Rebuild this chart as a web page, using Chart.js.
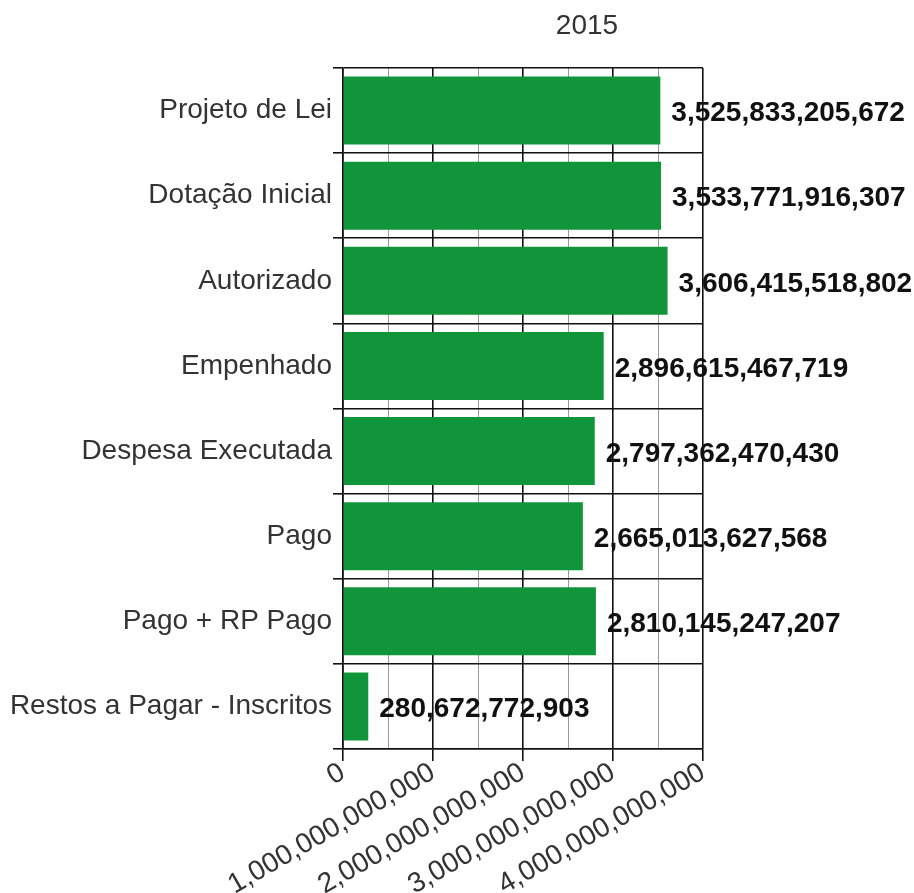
<!DOCTYPE html>
<html>
<head>
<meta charset="utf-8">
<script src="https://cdn.jsdelivr.net/npm/chart.js@4"></script>
<style>
  html, body { margin: 0; padding: 0; background: #fff; }
  #wrap { width: 914px; height: 893px; position: relative; }
</style>
</head>
<body>
<div id="wrap"><canvas id="budgetChart"></canvas></div>
<script>
// execução orçamentária 2015
const titleText = '2015';
const categories = [
  'Projeto de Lei',
  'Dotação Inicial',
  'Autorizado',
  'Empenhado',
  'Despesa Executada',
  'Pago',
  'Pago + RP Pago',
  'Restos a Pagar - Inscritos'
];
const values = [
  3525833205672,
  3533771916307,
  3606415518802,
  2896615467719,
  2797362470430,
  2665013627568,
  2810145247207,
  280672772903
];
const axisMax = 4000000000000;
const axisStep = 500000000000;   // half steps get the light grid lines
const majorStep = 1000000000000;

const fontFamily = '"Liberation Sans", Arial, sans-serif';
const fmt = n => n.toLocaleString('en-US');
const isMajor = v => Math.abs(v % majorStep) < 1;

// value printed just past the end of each bar
const valueLabels = {
  id: 'valueLabels',
  afterDatasetsDraw(chart) {
    const ctx = chart.ctx;
    const meta = chart.getDatasetMeta(0);
    ctx.save();
    ctx.font = 'bold 28px ' + fontFamily;
    ctx.fillStyle = '#111';
    ctx.textAlign = 'left';
    ctx.textBaseline = 'middle';
    meta.data.forEach((bar, i) => {
      ctx.fillText(fmt(values[i]), bar.x + 11, bar.y + 3);
    });
    ctx.restore();
  }
};

// title sits over the right-hand part of the plot
const yearTitle = {
  id: 'yearTitle',
  afterDraw(chart) {
    const ctx = chart.ctx;
    ctx.save();
    ctx.font = '28px ' + fontFamily;
    ctx.fillStyle = '#333';
    ctx.textAlign = 'center';
    ctx.textBaseline = 'middle';
    ctx.fillText(titleText, 587, 26);
    ctx.restore();
  }
};

const ctx = document.getElementById('budgetChart').getContext('2d');
new Chart(ctx, {
  type: 'bar',
  data: {
    labels: categories,
    datasets: [{
      data: values,
      backgroundColor: '#10953a',
      borderWidth: 0,
      barPercentage: 0.8,
      categoryPercentage: 1.0
    }]
  },
  options: {
    indexAxis: 'y',
    responsive: true,
    maintainAspectRatio: false,
    animation: false,
    layout: { padding: { top: 68, right: 211, left: 0, bottom: 0 } },
    plugins: {
      legend: { display: false },
      title: { display: false },
      tooltip: { enabled: false }
    },
    scales: {
      x: {
        min: 0,
        max: axisMax,
        afterFit: axis => { axis.height = 144; },
        afterBuildTicks: axis => {
          const t = [];
          for (let v = 0; v <= axisMax; v += axisStep) t.push({ value: v });
          axis.ticks = t;
        },
        ticks: {
          autoSkip: false,
          minRotation: 30,
          maxRotation: 30,
          padding: -5,
          color: '#333',
          font: { family: fontFamily, size: 28 },
          callback: v => isMajor(v) ? fmt(v) : ''
        },
        grid: {
          color: c => isMajor(c.tick.value) ? '#111' : '#9a9a9a',
          lineWidth: c => isMajor(c.tick.value) ? 1.6 : 1,
          tickColor: c => isMajor(c.tick.value) ? '#111' : 'rgba(0,0,0,0)',
          tickLength: 12
        },
        border: { display: true, color: '#111', width: 1.6 }
      },
      y: {
        afterFit: axis => { axis.width = 343; },
        ticks: {
          padding: 1,
          color: '#333',
          font: { family: fontFamily, size: 28 }
        },
        grid: {
          offset: true,
          color: '#111',
          lineWidth: 1.6,
          tickLength: 10
        },
        border: { display: true, color: '#111', width: 1.6 }
      }
    }
  },
  plugins: [valueLabels, yearTitle]
});
</script>
</body>
</html>
